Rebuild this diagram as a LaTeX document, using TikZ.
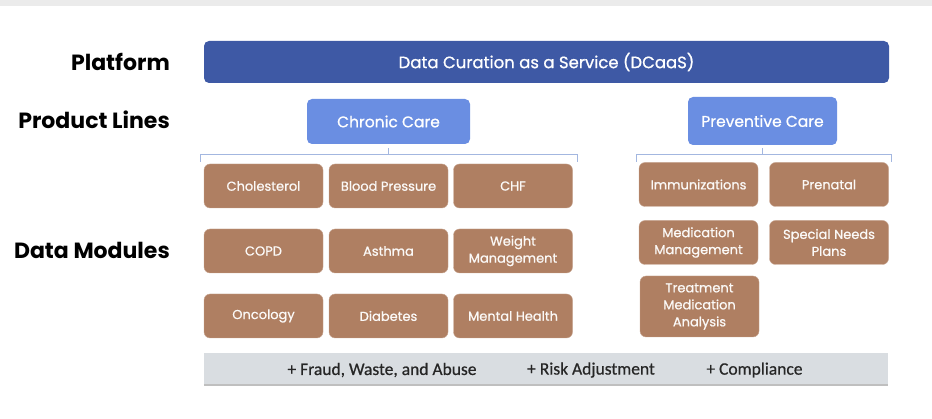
\documentclass[tikz,border=0pt]{standalone}
\usepackage{fontspec}
\setmainfont{Poppins}
\newfontfamily\boxfont{Poppins}[FakeBold=0.8]
\newfontfamily\barfont{Carlito}[FakeBold=0.6]
\usepackage{xcolor}
\usetikzlibrary{calc}

\definecolor{platblue}{HTML}{3E59A5}
\definecolor{lineblue}{HTML}{6A8EE2}
\definecolor{modbrown}{HTML}{AF7F62}
\definecolor{bracecol}{HTML}{A3B7E0}
\definecolor{bargray}{HTML}{D9DDE1}

\tikzset{
  rowlabel/.style = {anchor = east, inner sep = 0pt, font = \fontsize{22}{24}\selectfont\bfseries},
  platbox/.style = {fill = platblue, rounded corners = 5pt, text = white,
    font = \boxfont\fontsize{16.5}{18}\selectfont},
  linebox/.style = {fill = lineblue, rounded corners = 5pt, text = white,
    font = \boxfont\fontsize{15.5}{17}\selectfont},
  modbox/.style = {fill = modbrown, draw = modbrown!70!white, rounded corners = 6pt,
    text = white!95!modbrown, align = center, minimum width = 119pt,
    minimum height = 44pt, font = \boxfont\fontsize{13}{17}\selectfont},
  brace/.style = {draw = bracecol, line width = 1pt},
  extra/.style = {text = black!85, font = \barfont\fontsize{17.5}{19}\selectfont}
}

\begin{document}
\begin{tikzpicture}[x = 1pt, y = -1pt]
  \useasboundingbox (0, 0) rectangle (932, 419);
  \fill[black!8] (0, 0) rectangle (932, 6);

  % row labels
  \node[rowlabel] (lplat) at (170, 62) {Platform};
  \node[rowlabel] (lprod) at (170, 120) {Product Lines};
  \node[rowlabel] (ldata) at (170, 250) {Data Modules};

  % platform and product lines
  \node[platbox, minimum width = 685pt, minimum height = 42pt] (dcaas) at (546.5, 62)
  {Data Curation as a Service (DCaaS)};
  \node[linebox, minimum width = 163pt, minimum height = 45pt] (chronic) at (388.5, 121.5)
  {Chronic Care};
  \node[linebox, minimum width = 149pt, minimum height = 48pt] (prev) at (762.5, 121)
  {Preventive Care};

  % brackets
  \coordinate (cbl) at (200, 162);
  \coordinate (cbr) at (577, 162);
  \coordinate (pbl) at (636, 162);
  \coordinate (pbr) at (891, 162);
  \draw[brace] (cbl) -- ++(0, -7) -| (cbr);
  \draw[brace] ($(chronic.south) + (0, 4)$) -- ($(chronic.south) + (0, 11)$);
  \draw[brace] (pbl) -- ++(0, -7) -| (pbr);
  \draw[brace] ($(prev.south) + (0, 3)$) -- ($(prev.south) + (0, 10)$);

  % chronic care modules
  \node[modbox] (chol) at (263.5, 186) {Cholesterol};
  \node[modbox] (bp) at (388.5, 186) {Blood Pressure};
  \node[modbox] (chf) at (513, 186) {CHF};
  \node[modbox] (copd) at (263.5, 251) {COPD};
  \node[modbox] (asth) at (388.5, 251) {Asthma};
  \node[modbox] (wm) at (513, 251) {Weight\\Management};
  \node[modbox] (onc) at (263.5, 316) {Oncology};
  \node[modbox] (diab) at (388.5, 316) {Diabetes};
  \node[modbox] (mh) at (513, 316) {Mental Health};

  % preventive care modules
  \node[modbox] (imm) at (698.5, 184.5) {Immunizations};
  \node[modbox] (pren) at (829, 184.5) {Prenatal};
  \node[modbox] (medm) at (698.5, 242.5) {Medication\\Management};
  \node[modbox] (snp) at (829, 242.5) {Special Needs\\Plans};
  \node[modbox, minimum height = 61pt] (tma) at (699.5, 306.5)
  {Treatment\\Medication\\Analysis};

  % add-ons
  \node[fill = bargray, minimum width = 684pt, minimum height = 32pt] (bar) at (546, 369) {};
  \draw[black!25, line width = 1.5pt] (bar.south west) -- (bar.south east);
  \node[extra] (fwa) at (382, 370) {+ Fraud, Waste, and Abuse};
  \node[extra] (risk) at (591, 370) {+ Risk Adjustment};
  \node[extra] (comp) at (754.5, 370) {+ Compliance};
\end{tikzpicture}
\end{document}
